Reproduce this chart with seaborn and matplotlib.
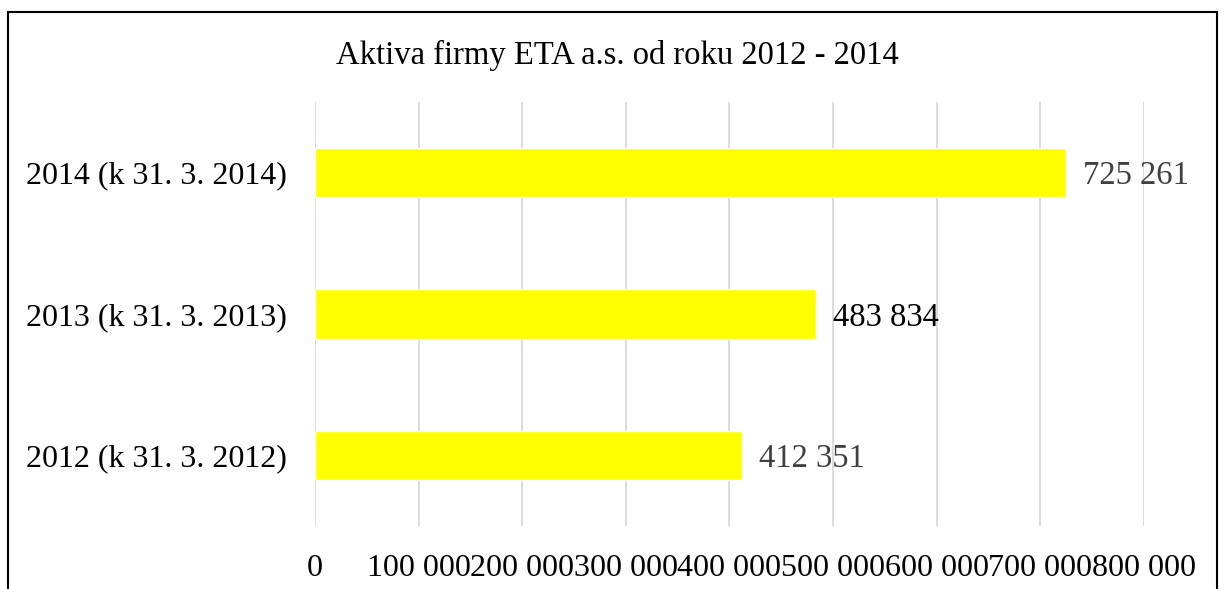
import pandas as pd
import matplotlib
matplotlib.use('Agg')
import matplotlib.pyplot as plt
import seaborn as sns
from matplotlib.patches import Rectangle

# data
years = ['2014 (k 31. 3. 2014)', '2013 (k 31. 3. 2013)', '2012 (k 31. 3. 2012)']
aktiva = [725261, 483834, 412351]
label_colors = ['#404040', '#000000', '#404040']
xticks = [0, 100000, 200000, 300000, 400000, 500000, 600000, 700000, 800000]

df = pd.DataFrame({'Rok': years, 'Aktiva': aktiva})

sns.set_style('white')
plt.rcParams['font.family'] = ['Liberation Serif', 'DejaVu Serif']
plt.rcParams['text.color'] = 'black'
plt.rcParams['xtick.color'] = 'black'
plt.rcParams['ytick.color'] = 'black'

fig = plt.figure(figsize=(12.3, 5.89), dpi=100)
ax = fig.add_axes([0.256, 0.107, 0.674, 0.72])

sns.barplot(data=df, y='Rok', x='Aktiva', order=years, color='#FFFF00',
            saturation=1, width=0.35, orient='h', ax=ax)

ax.set_xlim(0, 800000)
ax.set_ylim(2.5, -0.5)
ax.set_xticks(xticks)
ax.set_xticklabels([f'{v:,}'.replace(',', ' ') for v in xticks], fontsize=23)
ax.tick_params(axis='x', length=0, pad=20)
ax.tick_params(axis='y', length=0, pad=20, labelsize=23)
ax.set_xlabel('')
ax.set_ylabel('')
ax.grid(axis='x', color='#d9d9d9', linewidth=1.3)
ax.set_axisbelow(True)
for s in ax.spines.values():
    s.set_visible(False)

for bar, val, c in zip(ax.patches, aktiva, label_colors):
    ax.text(bar.get_width() + 16000, bar.get_y() + bar.get_height() / 2,
            f'{val:,}'.replace(',', ' '), va='center_baseline', ha='left',
            fontsize=23.5, color=c)

fig.text(0.502, 0.905, 'Aktiva firmy ETA a.s. od roku 2012 - 2014',
         ha='center', va='center', fontsize=23.5)

# chart frame
fig.patches.append(Rectangle((8 / 1230, -0.1), 1209 / 1230, 1.1 - 12 / 589,
                             transform=fig.transFigure, fill=False,
                             edgecolor='black', linewidth=1.5))

fig.savefig('out.png', dpi=100)
